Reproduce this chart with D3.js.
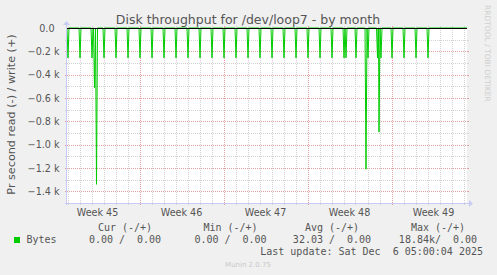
<!DOCTYPE html>
<html>
<head>
<meta charset="utf-8">
<script src="https://cdn.jsdelivr.net/npm/d3@7"></script>
<style>
  body { margin: 0; background: #f0f0f0; }
  svg { display: block; }
  text { fill: #555; }
</style>
</head>
<body>
<svg width="497" height="275"></svg>
<script>
// read (-) spikes, bytes per second, 2h samples
var spikeTimes = [
    "2025-11-03T01:00", "2025-11-04T01:00", "2025-11-05T01:00", "2025-11-05T06:00",
    "2025-11-05T10:00", "2025-11-06T01:00", "2025-11-07T01:00", "2025-11-08T01:00",
    "2025-11-09T01:00", "2025-11-10T01:00", "2025-11-11T01:00", "2025-11-12T01:00",
    "2025-11-13T01:00", "2025-11-14T01:00", "2025-11-15T01:00", "2025-11-16T01:00",
    "2025-11-17T01:00", "2025-11-18T01:00", "2025-11-19T01:00", "2025-11-20T01:00",
    "2025-11-21T01:00", "2025-11-22T01:00", "2025-11-23T01:00", "2025-11-24T01:00",
    "2025-11-25T01:00", "2025-11-26T01:00", "2025-11-26T05:00", "2025-11-27T01:00",
    "2025-11-27T21:00", "2025-11-28T01:00", "2025-11-28T20:00", "2025-11-28T23:00",
    "2025-11-29T03:00", "2025-11-30T01:00", "2025-12-01T01:00", "2025-12-02T01:00",
    "2025-12-03T01:00"
];
var spikeValues = [
    -256, -256, -256, -512,
    -1340, -256, -256, -256,
    -256, -256, -256, -256,
    -256, -256, -256, -256,
    -256, -256, -256, -256,
    -256, -256, -256, -256,
    -256, -256, -256, -256,
    -1210, -256, -256, -892,
    -256, -256, -256, -256,
    -256
];
var yTicks = [0, -200, -400, -600, -800, -1000, -1200, -1400];
var yMinor = [-100, -300, -500, -700, -900, -1100, -1300, -1500];
var legendHeads = ["Cur (-/+)", "Min (-/+)", "Avg (-/+)", "Max (-/+)"];
var legendValues = ["0.00 /  0.00", "0.00 /  0.00", "32.03 /  0.00", "18.84k/  0.00"];
var seriesName = "Bytes";
var lastUpdate = "Last update: Sat Dec  6 05:00:04 2025";

var svg = d3.select("svg"),
    plotL = 67, plotR = 467, plotT = 28, plotB = 203;

var start = new Date("2025-11-02T23:00Z"),
    end = new Date(start.getTime() + 800 * 3600e3);

var x = d3.scaleUtc().domain([start, end]).range([plotL, plotR]),
    y = d3.scaleLinear().domain([-1500, 0]).range([plotB, plotT]);

svg.append("rect")
    .attr("x", plotL).attr("y", plotT)
    .attr("width", plotR - plotL).attr("height", plotB - plotT)
    .attr("fill", "#fff");

var grid = svg.append("g").attr("shape-rendering", "crispEdges");

function hline(v, color) {
    var yy = Math.round(y(v)) + 0.5;
    grid.append("line").attr("x1", plotL).attr("x2", plotR).attr("y1", yy).attr("y2", yy)
        .attr("stroke", color).attr("stroke-dasharray", "1,1");
    grid.append("line").attr("x1", plotL - 2).attr("x2", plotL).attr("y1", yy).attr("y2", yy)
        .attr("stroke", color);
    grid.append("line").attr("x1", plotR).attr("x2", plotR + 2).attr("y1", yy).attr("y2", yy)
        .attr("stroke", color);
}
function vline(t, color) {
    var xx = Math.round(x(t)) + 0.5;
    grid.append("line").attr("x1", xx).attr("x2", xx).attr("y1", plotT).attr("y2", plotB)
        .attr("stroke", color).attr("stroke-dasharray", "1,1");
    grid.append("line").attr("x1", xx).attr("x2", xx).attr("y1", plotB).attr("y2", plotB + 2)
        .attr("stroke", color);
    grid.append("line").attr("x1", xx).attr("x2", xx).attr("y1", plotT - 2).attr("y2", plotT)
        .attr("stroke", color);
}

yMinor.forEach(function (v) { hline(v, "#d2d2d2"); });
var weeks = d3.utcSunday.range(d3.utcSunday.floor(start), end);
d3.utcDay.range(start, end).forEach(function (d) {
    if (d.getUTCDay() !== 0) vline(d, "#d2d2d2");
});
yTicks.slice(1).forEach(function (v) { hline(v, "#e0a0a0"); });
weeks.filter(function (d) { return d >= start; })
    .forEach(function (d) { vline(d, "#e0a0a0"); });

// y tick labels
svg.append("g").selectAll("text")
    .data(yTicks).enter().append("text")
    .attr("x", function (d) { return d === 0 ? 54.5 : 59.5; })
    .attr("y", function (d) { return y(d) + 3.5; })
    .attr("text-anchor", "end")
    .attr("font-family", "DejaVu Sans").attr("font-size", "9.6px")
    .text(function (d) { return d === 0 ? "0.0" : d3.format(".1f")(d / 1000) + " k"; });

// week labels, centred on each week
var mid = function (d) { return d3.utcHour.offset(d, 84); };
svg.append("g").selectAll("text")
    .data(weeks.filter(function (d) { var p = x(mid(d)); return p > plotL && p < plotR; }))
    .enter().append("text")
    .attr("x", function (d) { return x(mid(d)); })
    .attr("y", 215.5)
    .attr("text-anchor", "middle")
    .attr("font-family", "DejaVu Sans").attr("font-size", "9.6px")
    .text(function (d) { return "Week " + d3.utcFormat("%V")(mid(d)); });

// series line
var pts = [[start, 0], [end, 0]];
spikeTimes.forEach(function (s, i) {
    var t = new Date(s + "Z");
    pts.push([d3.utcHour.offset(t, -2), 0], [t, spikeValues[i]], [d3.utcHour.offset(t, 2), 0]);
});
pts.sort(function (a, b) { return a[0] - b[0]; });

svg.append("path")
    .datum(pts)
    .attr("fill", "none")
    .attr("stroke", "#00cc00")
    .attr("stroke-width", 1)
    .attr("d", d3.line()
        .x(function (d) { return x(d[0]); })
        .y(function (d) { return y(d[1]); }));

// zero rule
svg.append("line")
    .attr("x1", plotL).attr("x2", plotR)
    .attr("y1", y(0) + 0.5).attr("y2", y(0) + 0.5)
    .attr("stroke", "#000").attr("shape-rendering", "crispEdges");

// axes with arrows
var axisColor = "#c8ccf4";
svg.append("line").attr("x1", plotL - 0.5).attr("x2", plotL - 0.5)
    .attr("y1", plotB + 2).attr("y2", plotT - 4)
    .attr("stroke", axisColor).attr("shape-rendering", "crispEdges");
svg.append("line").attr("x1", plotL - 2).attr("x2", plotR + 3)
    .attr("y1", plotB + 0.5).attr("y2", plotB + 0.5)
    .attr("stroke", axisColor).attr("shape-rendering", "crispEdges");
svg.append("path")
    .attr("d", "M" + (plotL - 4) + "," + (plotT - 3) + "L" + (plotL - 0.5) + "," + (plotT - 7) + "L" + (plotL + 3) + "," + (plotT - 3) + "Z")
    .attr("fill", axisColor);
svg.append("path")
    .attr("d", "M" + (plotR + 2) + "," + (plotB - 3) + "L" + (plotR + 6) + "," + (plotB + 0.5) + "L" + (plotR + 2) + "," + (plotB + 4) + "Z")
    .attr("fill", axisColor);

// titles
svg.append("text")
    .attr("x", 248).attr("y", 24)
    .attr("text-anchor", "middle")
    .attr("font-family", "DejaVu Sans").attr("font-size", "12.5px")
    .text("Disk throughput for /dev/loop7 - by month");

svg.append("text")
    .attr("transform", "translate(14.5," + ((plotT + plotB) / 2 - 1) + ") rotate(-90)")
    .attr("text-anchor", "middle")
    .attr("font-family", "DejaVu Sans").attr("font-size", "11.2px")
    .text("Pr second read (-) / write (+)");

svg.append("text")
    .attr("transform", "translate(484.5,5) rotate(90)")
    .attr("font-family", "DejaVu Sans").attr("font-size", "7.5px")
    .style("fill", "#cfcfcf")
    .text("RRDTOOL / TOBI OETIKER");

// legend
var mono = "DejaVu Sans Mono";
var colX = [125, 230.5, 332, 438];
svg.append("g").selectAll("text")
    .data(legendHeads).enter().append("text")
    .attr("x", function (d, i) { return colX[i]; })
    .attr("y", 231)
    .attr("text-anchor", "middle")
    .attr("font-family", mono).attr("font-size", "10px")
    .style("white-space", "pre")
    .text(function (d) { return d; });

svg.append("rect").attr("x", 14).attr("y", 237).attr("width", 6).attr("height", 6)
    .attr("fill", "#00cc00");
svg.append("text").attr("x", 26.5).attr("y", 243)
    .attr("font-family", mono).attr("font-size", "10px")
    .text(seriesName);
svg.append("g").selectAll("text")
    .data(legendValues).enter().append("text")
    .attr("x", function (d, i) { return colX[i]; })
    .attr("y", 243)
    .attr("text-anchor", "middle")
    .attr("font-family", mono).attr("font-size", "10px")
    .style("white-space", "pre")
    .text(function (d) { return d; });

svg.append("text").attr("x", 483).attr("y", 255)
    .attr("text-anchor", "end")
    .attr("font-family", mono).attr("font-size", "10px")
    .style("white-space", "pre")
    .text(lastUpdate);

svg.append("text").attr("x", 248).attr("y", 267)
    .attr("text-anchor", "middle")
    .attr("font-family", "DejaVu Sans").attr("font-size", "7px")
    .style("fill", "#c8c8c8")
    .text("Munin 2.0.75");
</script>
</body>
</html>
